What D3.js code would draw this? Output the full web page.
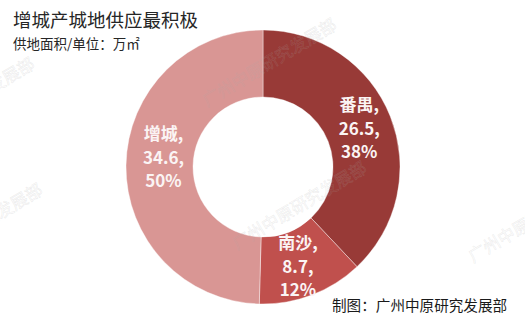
<!DOCTYPE html>
<html>
<head>
<meta charset="utf-8">
<script src="https://cdn.jsdelivr.net/npm/d3@7"></script>
<style>
  html, body { margin: 0; padding: 0; background: #fff; }
  svg { display: block; }
  text { font-family: "Noto Sans CJK SC", "Noto Sans", sans-serif; }
</style>
</head>
<body>
<svg id="chart" width="525" height="319"></svg>
<script>
const categories = ["番禺", "南沙", "增城"];
const values = [26.5, 8.7, 34.6];
const percents = ["38%", "12%", "50%"];
const colors = ["#983a37", "#c0504d", "#d99694"];
const title = "增城产城地供应最积极";
const subtitle = "供地面积/单位：万㎡";
const source = "制图：广州中原研究发展部";
const watermark = "广州中原研究发展部";

const svg = d3.select("#chart");
const W = 525, H = 319;
svg.append("rect").attr("width", W).attr("height", H).attr("fill", "#fff");

const cx = 263, cy = 167, rOuter = 137, rInner = 70;

const pie = d3.pie().sort(null).value(d => d.value).startAngle(0).endAngle(2 * Math.PI);
const data = categories.map((c, i) => ({ cat: c, value: values[i], pct: percents[i], color: colors[i] }));
const arcs = pie(data);
const arc = d3.arc().innerRadius(rInner).outerRadius(rOuter);

const g = svg.append("g").attr("transform", `translate(${cx},${cy})`);
g.selectAll("path.slice").data(arcs).join("path")
  .attr("class", "slice")
  .attr("d", arc)
  .attr("fill", d => d.data.color)
  .attr("stroke", "#fff")
  .attr("stroke-width", 0.4);

// watermarks (faint, rotated)
const wmPos = [[207, 107], [237, 250], [-95, 146], [-87, 272], [473, 263]];
svg.append("g").selectAll("text").data(wmPos).join("text")
  .attr("transform", d => `translate(${d[0]},${d[1]}) rotate(-31)`)
  .attr("font-size", 17)
  .attr("fill", "none")
  .attr("stroke", "rgba(170,170,170,0.22)")
  .attr("stroke-width", 0.6)
  .text(watermark);

// labels
const nudge = [[0, 0], [-2, 3], [4, -8]];
const lineH = 23.5;
const lbl = g.selectAll("g.lbl").data(arcs).join("g")
  .attr("class", "lbl")
  .attr("transform", (d, i) => {
    const c = arc.centroid(d);
    return `translate(${c[0] + nudge[i][0]},${c[1] + nudge[i][1]})`;
  });
lbl.each(function(d) {
  const lines = [d.data.cat + ",", d.value + ",", d.data.pct];
  d3.select(this).selectAll("text").data(lines).join("text")
    .attr("text-anchor", "middle")
    .attr("y", (t, j) => (j - 1) * lineH + 6)
    .attr("font-size", 17)
    .attr("font-weight", 600)
    .attr("fill", "#fbf4f4")
    .text(t => t);
});

// title & texts
svg.append("text").attr("x", 13).attr("y", 27)
  .attr("font-size", 18.5).attr("fill", "#262626").text(title);
svg.append("text").attr("x", 13).attr("y", 49)
  .attr("font-size", 13.5).attr("fill", "#262626").text(subtitle);
svg.append("text").attr("x", 332).attr("y", 311)
  .attr("font-size", 14.6).attr("fill", "#1a1a1a").text(source);
</script>
</body>
</html>
